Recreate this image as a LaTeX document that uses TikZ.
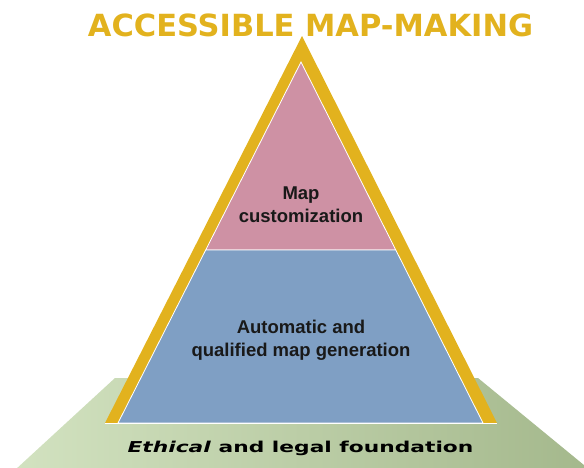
\documentclass[tikz,border=0pt]{standalone}
\usepackage{fontspec}
\usepackage{graphicx}
\setmainfont{Liberation Sans}
\newfontfamily\headfont{DejaVu Sans}
\usetikzlibrary{calc}
\definecolor{mapgold}{RGB}{226,178,30}
\definecolor{mappink}{RGB}{206,145,164}
\definecolor{mapblue}{RGB}{127,159,196}
\definecolor{groundlight}{RGB}{210,226,192}
\definecolor{grounddark}{RGB}{164,184,140}
\newcommand{\widetext}[1]{\scalebox{1.45}[1]{#1}}
\tikzset{
  layertext/.style={align=center, font=\fontsize{18.5}{23}\selectfont\bfseries, text=black!90},
  groundtext/.style={font=\headfont\fontsize{15}{17}\selectfont\bfseries, anchor=base},
  headtext/.style={font=\headfont\fontsize{30.5}{34}\selectfont\bfseries, text=mapgold, anchor=base}
}

\begin{document}
\begin{tikzpicture}[x=1pt,y=-1pt]
                \useasboundingbox (0,0) rectangle (584,467);
                \clip (0,0) rectangle (584,467);

                % ground
                \shade[left color=groundlight, right color=grounddark]
                  (115,378) -- (478,378) -- (590,470) -- (15,470) -- cycle;

                % pyramid
                \fill[mapgold] (302,36) -- (497,423) -- (105,423) -- cycle;
                \coordinate (apex) at (301,62);
                \coordinate (bl) at (118,423);
                \coordinate (br) at (483,423);
                \coordinate (ml) at ($(apex)!0.5208!(bl)$);
                \coordinate (mr) at ($(apex)!0.5208!(br)$);
                \filldraw[fill=mappink, draw=white, line width=0.8pt] (apex) -- (mr) -- (ml) -- cycle;
                \filldraw[fill=mapblue, draw=white, line width=0.8pt] (ml) -- (mr) -- (br) -- (bl) -- cycle;
                \draw[white, line width=0.8pt] (105,423) -- (497,423);

                \node[layertext] (custom) at (301,205) {Map\\customization};
                \node[layertext] (generation) at (301,340) {Automatic and\\qualified map generation};
                \node[groundtext] (ground) at (300.5,452) {\widetext{\textit{Ethical} and legal foundation}};
                \node[headtext] (title) at (310.5,36.5) {ACCESSIBLE MAP-MAKING};
            \end{tikzpicture}
\end{document}
